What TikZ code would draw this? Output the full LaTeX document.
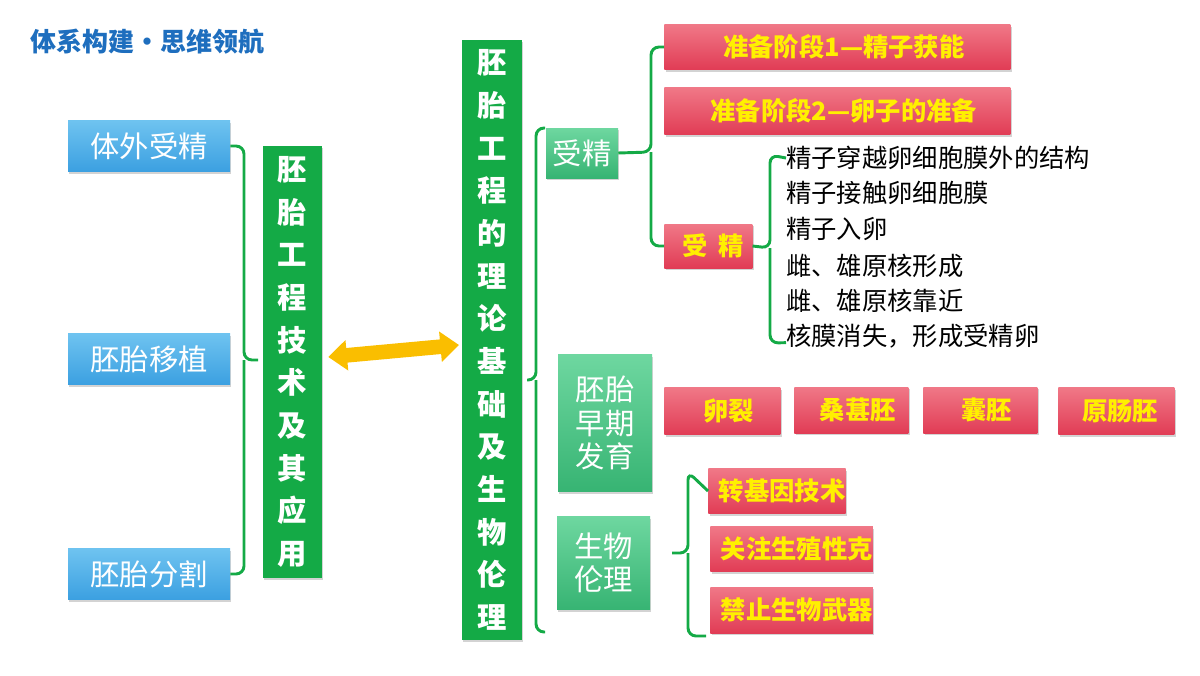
\documentclass[tikz,border=0pt]{standalone}
\usepackage{fontspec}
\setmainfont{Noto Sans CJK SC}
\usetikzlibrary{shadows,arrows.meta}
\definecolor{tblue}{RGB}{30,110,190}
\definecolor{bluA}{RGB}{110,195,240}
\definecolor{bluB}{RGB}{60,160,225}
\definecolor{grnA}{RGB}{110,215,160}
\definecolor{grnB}{RGB}{55,180,115}
\definecolor{gdark}{RGB}{20,170,70}
\definecolor{redA}{RGB}{240,120,135}
\definecolor{redB}{RGB}{225,60,85}
\definecolor{ylw}{RGB}{255,240,0}
\definecolor{brc}{RGB}{20,170,70}
\tikzset{
 bx/.style={rectangle,inner sep=0pt,drop shadow={shadow xshift=1pt,shadow yshift=-1.5pt,opacity=0.35}},
 blue/.style={bx,top color=bluA,bottom color=bluB,text=white,font=\fontsize{22}{24}\selectfont},
 green/.style={bx,top color=grnA,bottom color=grnB,text=white,font=\fontsize{22}{25}\selectfont,align=center},
 vgreen/.style={bx,fill=gdark,text=white,font=\fontsize{22}{32}\selectfont\bfseries,align=center},
 red/.style={bx,top color=redA,bottom color=redB,text=ylw,font=\fontsize{19}{22}\selectfont\bfseries,anchor=west},
 brace/.style={draw=brc,line width=2.2pt,rounded corners=6pt},
 lst/.style={anchor=west,font=\fontsize{19}{21}\selectfont,text=black,inner sep=0pt}
}
\newcommand{\brc}[5]{% xr xm xl top tip bot... xr,xm,xl,top,bot ; tip via #5
}
\begin{document}
\begin{tikzpicture}[x=0.75pt,y=-0.75pt]
\useasboundingbox (0,0) rectangle (1200,675);
\node[anchor=west,text=tblue,font=\fontsize{19.5}{22}\selectfont\bfseries] (title) at (26,42) {体系构建•思维领航};
% left blue
\node[blue,minimum width={162*0.75pt},minimum height={51*0.75pt}] (a1) at (149,146) {体外受精};
\node[blue,minimum width={162*0.75pt},minimum height={51*0.75pt}] (a2) at (149,359) {胚胎移植};
\node[blue,minimum width={162*0.75pt},minimum height={51*0.75pt}] (a3) at (149,574) {胚胎分割};
\node[vgreen,minimum width={59*0.75pt},minimum height={432*0.75pt}] (b) at (292.5,362) {胚\\胎\\工\\程\\技\\术\\及\\其\\应\\用};
\node[vgreen,minimum width={60*0.75pt},minimum height={600*0.75pt}] (c) at (492,340) {胚\\胎\\工\\程\\的\\理\\论\\基\\础\\及\\生\\物\\伦\\理};
\draw[{Triangle[length=14pt,width=22pt]}-{Triangle[length=14pt,width=22pt]},line width=11pt,draw=orange!40!yellow,color={rgb,255:red,250;green,190;blue,0}] (b.east)++(6,-5) coordinate (arL) -- ([xshift=-2pt,yshift=-3.75pt]c.west) coordinate (arR);
% braces
\draw[brace] (a1.east) -- (244,146) -- (244,360) -- (258,360) (244,360) -- (244,574) -- (a3.east);
\node[green,minimum width={72*0.75pt},minimum height={50*0.75pt}] (d1) at (582,153) {受精};
\node[green,minimum width={94*0.75pt},minimum height={137*0.75pt}] (d2) at (605,423) {胚胎\\早期\\发育};
\node[green,minimum width={93*0.75pt},minimum height={93*0.75pt}] (d3) at (603.5,563) {生物\\伦理};
\draw[brace] (545,128) -- (536,128) -- (536,380) -- (527,380) (536,380) -- (536,632) -- (545,632);
% fertilization branch
\node[red,minimum width={346*0.75pt},minimum height={45*0.75pt}] (e1) at (664,47) {\hspace{10pt}准备阶段1—精子获能};
\node[red,minimum width={346*0.75pt},minimum height={47*0.75pt}] (e2) at (664,111) {\hspace{10pt}准备阶段2—卵子的准备};
\node[red,minimum width={88*0.75pt},minimum height={44*0.75pt}] (e3) at (664,246) {\hspace{8pt}受\hspace{8pt}精};
\draw[brace] (e1.west) -- (651,47) -- (651,152) -- (d1.east) (651,152) -- (651,246) -- (e3.west);
\node[lst] (f1) at (786,158) {精子穿越卵细胞膜外的结构};
\node[lst] (f2) at (786,193) {精子接触卵细胞膜};
\node[lst] (f3) at (786,229) {精子入卵};
\node[lst] (f4) at (786,266) {雌、雄原核形成};
\node[lst] (f5) at (786,301) {雌、雄原核靠近};
\node[lst] (f6) at (786,336) {核膜消失，形成受精卵};
\draw[brace] (f1.west) -- (770,155) -- (770,248) -- (e3.east) (770,248) -- (770,343) -- ([yshift=-5pt]f6.west);
% early development
\node[red,minimum width={116*0.75pt},minimum height={47*0.75pt}] (g1) at (664,411) {\hspace{10pt}卵裂\hspace{50pt}};
\node[red,minimum width={114*0.75pt},minimum height={46*0.75pt}] (g2) at (794,410) {\hspace{10pt}桑葚胚\hspace{27pt}};
\node[red,minimum width={114*0.75pt},minimum height={46*0.75pt}] (g3) at (923,410) {\hspace{10pt}囊胚\hspace{46pt}};
\node[red,minimum width={116*0.75pt},minimum height={47*0.75pt}] (g4) at (1058,411) {\hspace{6pt}原肠胚\hspace{33pt}};
% ethics
\node[red,minimum width={107*0.75pt},minimum height={45*0.75pt}] (h1) at (708,491) {\hspace{8pt}转基因技术\hspace{8pt}};
\node[red,minimum width={145*0.75pt},minimum height={45*0.75pt}] (h2) at (710,549) {\hspace{8pt}关注生殖性克\hspace{8pt}};
\node[red,minimum width={133*0.75pt},minimum height={46*0.75pt}] (h3) at (710,610) {\hspace{8pt}禁止生物武器\hspace{8pt}};
\draw[brace] (h1.west) -- (688,472) -- (688,553) -- (672,553) (688,553) -- (688,636) -- (706,636);
\end{tikzpicture}
\end{document}
